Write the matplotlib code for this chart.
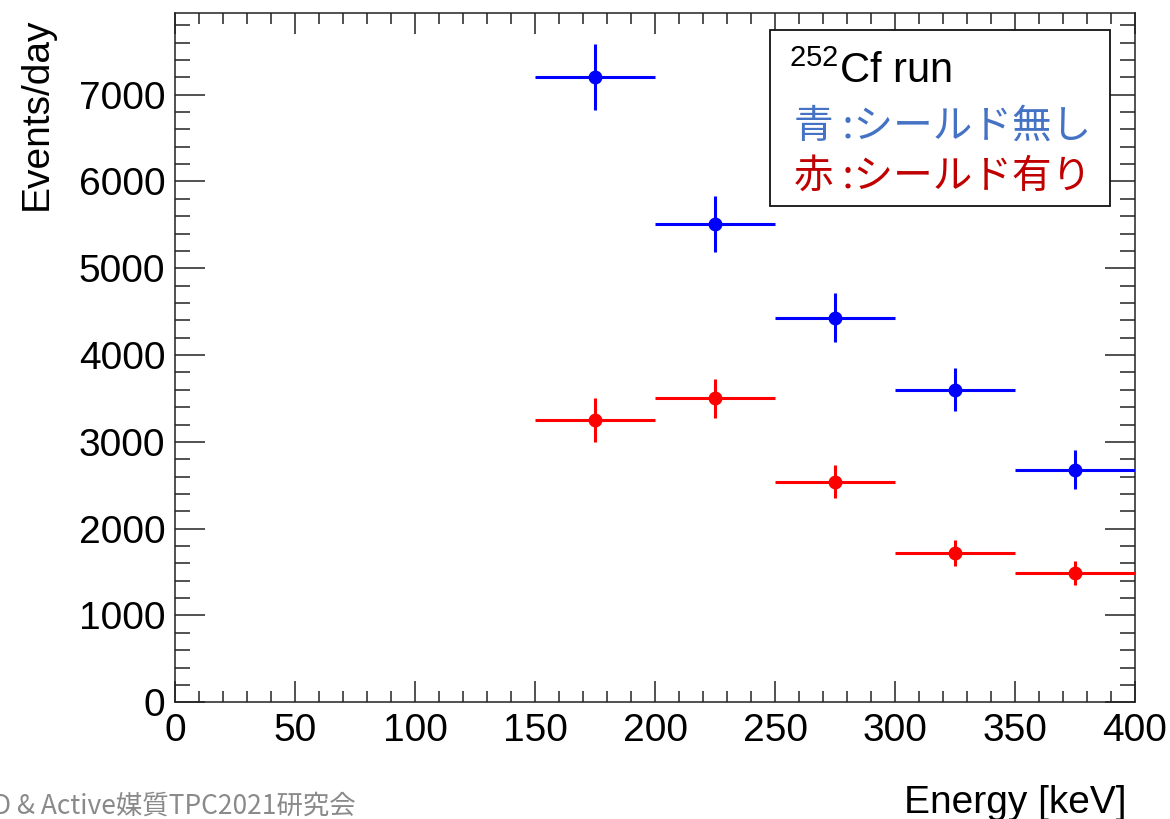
"""
Event rate vs. recoil energy for the 252Cf run, with and without shielding.
"""

import matplotlib
matplotlib.use("Agg")
import matplotlib.pyplot as plt
from matplotlib.patches import Rectangle
from matplotlib.ticker import MultipleLocator

plt.rcParams.update({
    "font.family": ["Liberation Sans", "Noto Sans CJK JP"],
    "mathtext.fontset": "custom",
    "mathtext.rm": "Liberation Sans",
    "axes.linewidth": 1.1,
    "axes.edgecolor": "#222222",
})

# Energy bins (keV): centre and half width
energy = [175, 225, 275, 325, 375]
half_width = [25, 25, 25, 25, 25]

# No shielding (blue)
rate_open = [7200, 5510, 4430, 3600, 2680]
err_open = [380, 320, 280, 250, 225]

# With shielding (red)
rate_shield = [3250, 3500, 2540, 1720, 1490]
err_shield = [255, 220, 190, 150, 140]

fig = plt.figure(figsize=(11.7, 8.19), dpi=100)
ax = fig.add_axes([0.1496, 0.1425, 0.8205, 0.8416])

for rate, err, col in [(rate_open, err_open, "#0000ff"),
                       (rate_shield, err_shield, "#ff0000")]:
    ax.errorbar(energy, rate, xerr=half_width, yerr=err, fmt="o", color=col,
                ms=9, elinewidth=2.2, capsize=0, zorder=3)

ax.set_xlim(0, 400)
ax.set_ylim(0, 7940)
ax.xaxis.set_major_locator(MultipleLocator(50))
ax.xaxis.set_minor_locator(MultipleLocator(10))
ax.yaxis.set_major_locator(MultipleLocator(1000))
ax.yaxis.set_minor_locator(MultipleLocator(200))

ax.tick_params(axis="both", which="both", direction="in", top=True, right=True,
               labelsize=28, color="#222222", width=1.1)
ax.tick_params(axis="y", which="major", length=21.5, pad=7)
ax.tick_params(axis="y", which="minor", length=11)
ax.tick_params(axis="x", which="major", length=15, pad=8)
ax.tick_params(axis="x", which="minor", length=8)

fig.text(37 / 1170, 1 - 18 / 819, "Events/day", rotation=90, ha="center",
         va="top", fontsize=28)
fig.text(1127 / 1170, 1 - 813 / 819, "Energy [keV]", ha="right",
         va="baseline", fontsize=28)

# legend box
ax.add_patch(Rectangle((0.620, 0.720), 0.354, 0.255, transform=ax.transAxes,
                       facecolor="white", edgecolor="#111111", lw=1.3, zorder=5))
ax.text(0.640, 0.898, r"$^{252}$Cf run", transform=ax.transAxes, fontsize=30,
        va="baseline", zorder=6)
ax.text(0.645, 0.819, "青 :シールド無し", transform=ax.transAxes, fontsize=28.5,
        color="#4472c4", va="baseline", family=["Noto Sans CJK JP"], zorder=6)
ax.text(0.645, 0.746, "赤 :シールド有り", transform=ax.transAxes, fontsize=28.5,
        color="#c00000", va="baseline", family=["Noto Sans CJK JP"], zorder=6)

fig.text(-0.006, 0.006, "D & Active媒質TPC2021研究会", color="#8a8a8a",
         fontsize=19, family=["Noto Sans CJK JP"])

fig.savefig("out.png", dpi=100)
